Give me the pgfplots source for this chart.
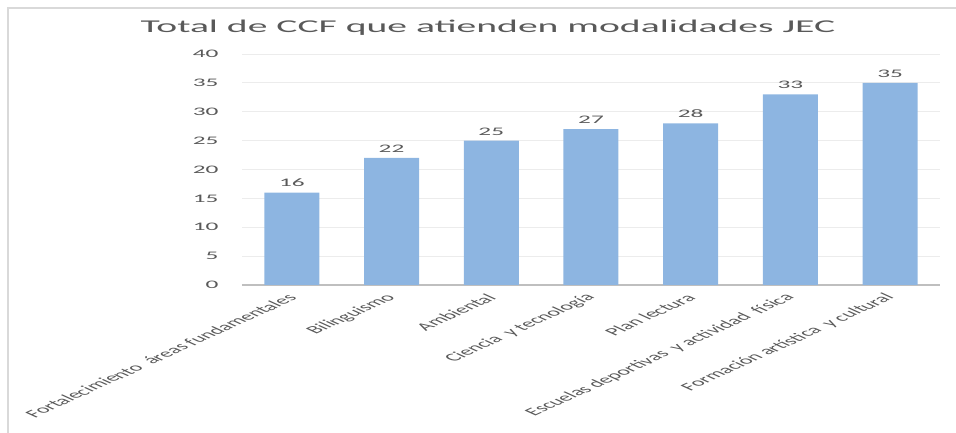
\documentclass[border=0pt]{standalone}
\usepackage{pgfplots}
\pgfplotsset{compat=1.18}
\usepackage{fontspec}
\setmainfont{Carlito}
\definecolor{barblue}{RGB}{141,181,225}
\definecolor{txt}{RGB}{89,89,89}
\definecolor{gridc}{RGB}{236,236,236}
\definecolor{axisgray}{RGB}{191,191,191}
\definecolor{framec}{RGB}{217,217,217}
\begin{document}
\begin{tikzpicture}
\useasboundingbox (-242pt,-148pt) rectangle (714pt,285pt);
\draw[framec, line width=1.2pt] (-234pt,-148pt) -- (-234pt,277pt) -- (714pt,277pt);
\node[text=txt, font=\fontsize{18}{20}\selectfont, xscale=2.2] at (246pt,257pt) {Total de CCF que atienden modalidades JEC};
\begin{axis}[
  at={(0pt,0pt)}, anchor=south west,
  scale only axis, width=698pt, height=231pt,
  xmin=-0.5, xmax=6.5, ymin=0, ymax=40,
  ytick={0,5,...,40},
  xtick=data,
  xticklabels={Fortalecimiento\ \ áreas fundamentales, Bilinguismo, Ambiental, Ciencia\ \ y tecnología, Plan lectura, Escuelas deportivas\ \ y actividad\ \ física, Formación artística\ \ y cultural},
  axis x line=bottom, axis y line=left,
  x axis line style={draw=axisgray, line width=1.5pt, -},
  y axis line style={draw=none},
  tick style={draw=none},
  ymajorgrids, grid style={gridc, line width=0.8pt},
  /pgf/number format/assume math mode=true,
  yticklabel style={font=\fontsize{11.5}{13}\selectfont, text=txt, anchor=east, inner sep=0pt, xshift=-21pt, xscale=2.2},
  xticklabel style={font=\fontsize{11}{13}\selectfont, text=txt, anchor=east, inner sep=1pt, yshift=-6pt, xshift=2pt, xscale=2.2, rotate=45},
  ybar, bar width=55pt,
  nodes near coords,
  nodes near coords style={font=\fontsize{11.5}{13}\selectfont, text=txt, anchor=south, yshift=2pt, xscale=2.2},
]
\addplot[fill=barblue, draw=none] coordinates {(0,16) (1,22) (2,25) (3,27) (4,28) (5,33) (6,35)};
\end{axis}
\end{tikzpicture}
\end{document}
